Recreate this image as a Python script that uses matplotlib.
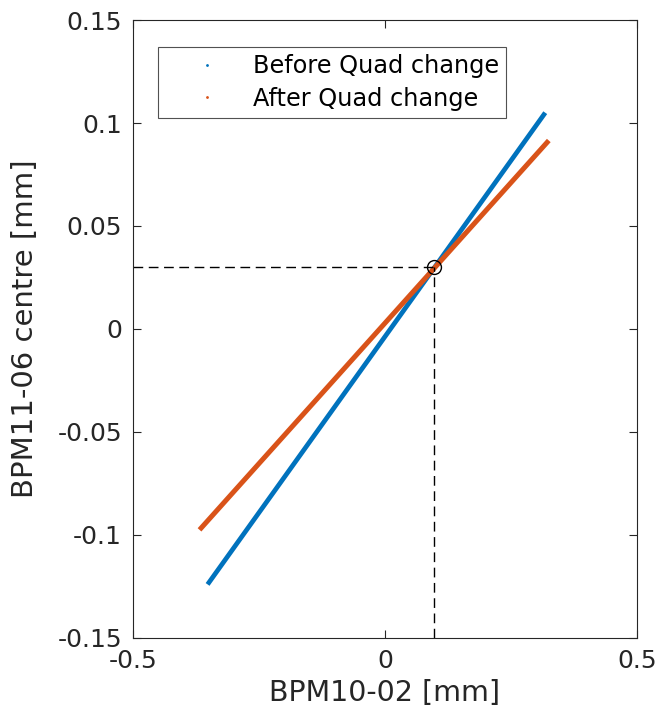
import matplotlib.pyplot as plt
from matplotlib.lines import Line2D

# endpoints of the two measured correlations (BPM10-02 vs BPM11-06)
before_x = [-0.352, 0.318]
before_y = [-0.124, 0.105]
after_x = [-0.368, 0.325]
after_y = [-0.0975, 0.0915]

# crossing point
cross_x = 0.097
cross_y = 0.03

xticks = [-0.5, 0, 0.5]
yticks = [-0.15, -0.1, -0.05, 0, 0.05, 0.1, 0.15]
ytick_labels = ["-0.15", "-0.1", "-0.05", "0", "0.05", "0.1", "0.15"]

blue = "#0072BD"
orange = "#D95319"


def main():
    fig = plt.figure(figsize=(6.62, 7.17), dpi=100)
    ax = fig.add_axes([0.2009, 0.1102, 0.7613, 0.8619])

    ax.plot(before_x, before_y, color=blue, lw=3.4, solid_capstyle="butt")
    ax.plot(after_x, after_y, color=orange, lw=3.6, solid_capstyle="butt")

    ax.plot([-0.5, cross_x], [cross_y, cross_y], "k--", lw=1, dashes=(7, 4))
    ax.plot([cross_x, cross_x], [-0.15, cross_y], "k--", lw=1, dashes=(7, 4))
    ax.plot(cross_x, cross_y, "o", mfc="none", mec="k", ms=10, mew=1)

    ax.set_xlim(-0.5, 0.5)
    ax.set_ylim(-0.15, 0.15)
    ax.set_xticks(xticks)
    ax.set_xticklabels(["-0.5", "0", "0.5"])
    ax.set_yticks(yticks)
    ax.set_yticklabels(ytick_labels)
    ax.tick_params(direction="in", top=True, right=True, length=6,
                   labelsize=18, colors="#262626", pad=8)
    for s in ax.spines.values():
        s.set_color("#262626")
        s.set_linewidth(0.8)

    ax.set_xlabel("BPM10-02 [mm]", fontsize=20.5, color="#262626", labelpad=4)
    ax.set_ylabel("BPM11-06 centre [mm]", fontsize=21, color="#262626", labelpad=13)

    handles = [
        Line2D([], [], ls="none", marker=".", ms=2, color=blue),
        Line2D([], [], ls="none", marker=".", ms=2, color=orange),
    ]
    leg = ax.legend(handles, ["Before Quad change", "After Quad change"],
                    loc="upper left", bbox_to_anchor=(0.05, 0.956),
                    fontsize=17.3, frameon=True, fancybox=False,
                    handlelength=3.5, handletextpad=0.15, borderpad=0.3,
                    labelspacing=0.35, borderaxespad=0)
    leg.get_frame().set_edgecolor("#262626")
    leg.get_frame().set_linewidth(0.8)

    fig.savefig("out.png", dpi=100)


if __name__ == "__main__":
    main()
